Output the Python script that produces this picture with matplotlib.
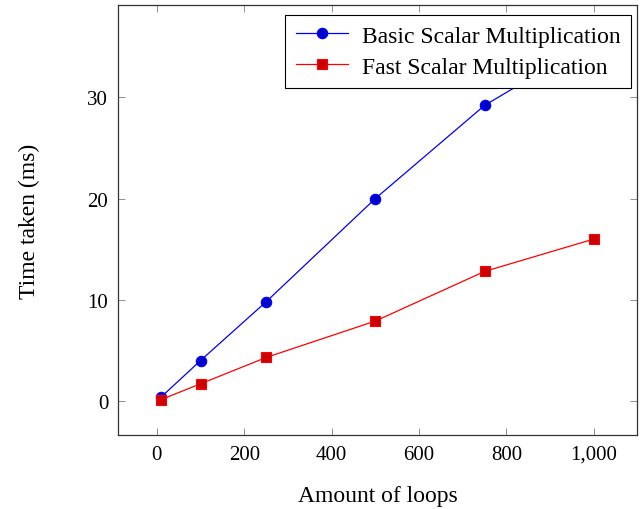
import matplotlib
matplotlib.use('Agg')
import matplotlib.pyplot as plt

plt.rcParams['font.family'] = ['Liberation Serif', 'DejaVu Serif']
plt.rcParams['font.size'] = 15

# data
loops = [10, 100, 250, 500, 750, 1000]
basic_ms = [0.4, 4.0, 9.8, 20.0, 29.2, 35.6]
fast_ms = [0.15, 1.7, 4.3, 7.9, 12.8, 16.0]
x_ticks = [0, 200, 400, 600, 800, 1000]
x_tick_labels = ['0', '200', '400', '600', '800', '1,000']
y_ticks = [0, 10, 20, 30]

fig = plt.figure(figsize=(6.41, 5.10), dpi=100)
ax = fig.add_axes([0.184, 0.145, 0.81, 0.843])

ax.plot(loops, basic_ms, color='blue', lw=0.9, marker='o', markersize=7.5,
        markerfacecolor='#0000cc', markeredgecolor='blue', markeredgewidth=0.8,
        label='Basic Scalar Multiplication')
ax.plot(loops, fast_ms, color='red', lw=0.9, marker='s', markersize=7.5,
        markerfacecolor='#cc0000', markeredgecolor='red', markeredgewidth=0.8,
        label='Fast Scalar Multiplication')

ax.set_xlim(-89, 1099)
ax.set_ylim(-3.36, 39.1)
ax.set_xticks(x_ticks)
ax.set_xticklabels(x_tick_labels)
ax.set_yticks(y_ticks)
ax.tick_params(direction='in', length=5, width=0.6, color='#808080',
               top=True, right=True, pad=7, labelsize=15)
for s in ax.spines.values():
    s.set_linewidth(0.9)
    s.set_color('#333333')

ax.set_xlabel('Amount of loops', labelpad=15, fontsize=17)
ax.set_ylabel('Time taken (ms)', labelpad=34, fontsize=17)

leg = ax.legend(loc='upper right', bbox_to_anchor=(0.988, 0.978), fancybox=False,
                framealpha=1, edgecolor='black', handlelength=2.2,
                borderpad=0.45, labelspacing=0.4, handletextpad=0.6,
                borderaxespad=0, fontsize=17)
leg.get_frame().set_linewidth(0.8)

fig.savefig('out.png', dpi=100)
